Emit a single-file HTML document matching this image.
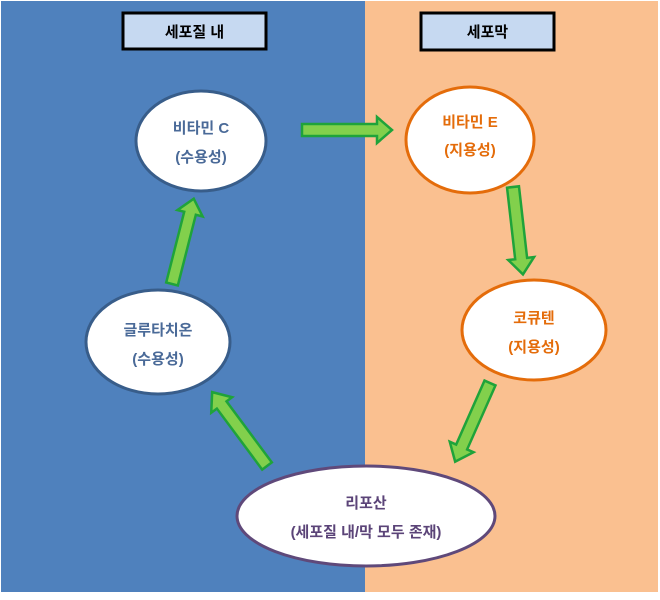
<!DOCTYPE html>
<html><head><meta charset="utf-8"><style>
body{margin:0;background:#fff}
text{font-family:"Liberation Sans","Noto Sans CJK KR","NanumGothic",sans-serif;font-weight:bold;font-size:15px;text-anchor:middle}
</style></head><body>
<svg width="660" height="595" viewBox="0 0 660 595" xmlns="http://www.w3.org/2000/svg">
<rect x="0" y="0" width="660" height="595" fill="#fff"/>
<rect x="1" y="1" width="364" height="591" fill="#4f81bd"/>
<rect x="365" y="1" width="293" height="591" fill="#fac090"/>
<rect x="123" y="13" width="143" height="36" fill="#c6d9f1" stroke="#000" stroke-width="3"/>
<text x="194.5" y="37" fill="#000">세포질 내</text>
<rect x="421" y="13" width="133" height="37" fill="#c6d9f1" stroke="#000" stroke-width="3"/>
<text x="487.5" y="37" fill="#000">세포막</text>
<g fill="#82d04c" stroke="#1fa33a" stroke-width="2.5" stroke-linejoin="miter">
<g transform="translate(302,130) rotate(0)"><polygon points="0,-6 75,-6 75,-13 90,0 75,13 75,6 0,6"/></g>
<g transform="translate(513,187) rotate(83.5)"><polygon points="0,-6 72,-6 72,-13 88,0 72,13 72,6 0,6"/></g>
<g transform="translate(490,383) rotate(113.9)"><polygon points="0,-6 70,-6 70,-13 86,0 70,13 70,6 0,6"/></g>
<g transform="translate(267,466) rotate(-126.6)"><polygon points="0,-6 76,-6 76,-13 92,0 76,13 76,6 0,6"/></g>
<g transform="translate(172,284) rotate(-75.7)"><polygon points="0,-6 73,-6 73,-13 88,0 73,13 73,6 0,6"/></g>
</g>
<ellipse cx="201" cy="141" rx="65" ry="50" fill="#fff" stroke="#385d8a" stroke-width="3"/>
<text x="201" y="133" fill="#4a6a98">비타민 C</text>
<text x="201" y="162" fill="#4a6a98">(수용성)</text>
<ellipse cx="470" cy="140" rx="64" ry="53" fill="#fff" stroke="#e46c0a" stroke-width="3"/>
<text x="470" y="127" fill="#e46c0a">비타민 E</text>
<text x="470" y="155" fill="#e46c0a">(지용성)</text>
<ellipse cx="534" cy="330" rx="72" ry="50" fill="#fff" stroke="#e46c0a" stroke-width="3"/>
<text x="534" y="323" fill="#e46c0a">코큐텐</text>
<text x="534" y="352" fill="#e46c0a">(지용성)</text>
<ellipse cx="158" cy="342" rx="72" ry="52" fill="#fff" stroke="#385d8a" stroke-width="3"/>
<text x="158" y="335" fill="#4a6a98">글루타치온</text>
<text x="158" y="364" fill="#4a6a98">(수용성)</text>
<ellipse cx="366" cy="516" rx="129" ry="50" fill="#fff" stroke="#5f497a" stroke-width="3"/>
<text x="366" y="508" fill="#5b4478">리포산</text>
<text x="366" y="537" fill="#5b4478">(세포질 내/막 모두 존재)</text>
</svg>
</body></html>
